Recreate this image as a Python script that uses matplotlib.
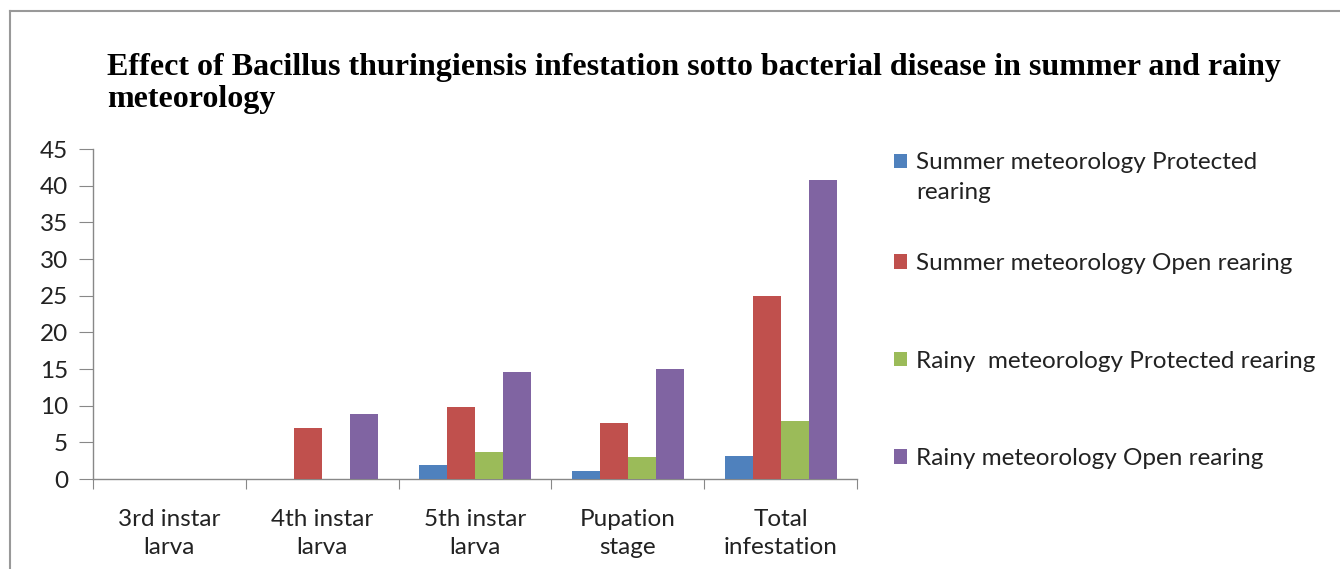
import matplotlib
matplotlib.use("Agg")
import matplotlib.pyplot as plt
import numpy as np
from matplotlib.lines import Line2D
from matplotlib.patches import Rectangle
from matplotlib.legend_handler import HandlerPatch

categories = ["3rd instar\nlarva", "4th instar\nlarva", "5th instar\nlarva", "Pupation\nstage", "Total\ninfestation"]
series_names = ["Summer meteorology Protected\nrearing",
                "Summer meteorology Open rearing",
                "Rainy  meteorology Protected rearing",
                "Rainy meteorology Open rearing"]
summer_protected = [0, 0, 1.9, 1.1, 3.1]
summer_open = [0, 7.0, 9.8, 7.6, 25.0]
rainy_protected = [0, 0, 3.7, 3.0, 7.9]
rainy_open = [0, 8.8, 14.6, 15.0, 40.8]
yticks = [0, 5, 10, 15, 20, 25, 30, 35, 40, 45]
title = "Effect of Bacillus thuringiensis infestation sotto bacterial disease in summer and rainy\nmeteorology"

colors = ["#4F81BD", "#C0504D", "#9BBB59", "#8064A2"]
font = "Lato"
fs = 17.5
txtcol = "#222222"


class ShiftedSquare(HandlerPatch):
    def __init__(self, shift=0.0, **kw):
        super().__init__(**kw)
        self.shift = shift

    def create_artists(self, legend, orig_handle, xdescent, ydescent, width, height, fontsize, trans):
        p = Rectangle((-xdescent, -ydescent + self.shift * fontsize), width, height,
                      facecolor=orig_handle.get_facecolor(), edgecolor="none")
        p.set_transform(trans)
        return [p]


fig = plt.figure(figsize=(13.4, 5.69), dpi=100)
ax = fig.add_axes([93/1340, 1-479/569, (857-93)/1340, (479-149)/569])

x = np.arange(len(categories))
w = 0.183
allv = [summer_protected, summer_open, rainy_protected, rainy_open]
bars = []
for i, (vals, c, name) in enumerate(zip(allv, colors, series_names)):
    b = ax.bar(x + (i - 1.5) * w, vals, width=w, color=c, label=name, zorder=3)
    bars.append(b)

ax.set_xlim(-0.5, len(categories) - 0.5)
ax.set_ylim(0, 45)
ax.set_yticks(yticks)
ax.set_yticklabels([str(v) for v in yticks], fontsize=fs, family=font, color=txtcol)
ax.set_xticks(np.arange(-0.5, len(categories), 1.0))
ax.set_xticklabels([])
ax.set_xticks(x, minor=True)
ax.set_xticklabels(categories, minor=True, fontsize=fs, family=font, color=txtcol, linespacing=1.4)
ax.tick_params(axis="x", which="major", length=7, color="#888888", direction="out")
ax.tick_params(axis="x", which="minor", length=0, pad=21.5)
ax.tick_params(axis="y", length=10, color="#888888", direction="out", pad=8)
for s in ["top", "right"]:
    ax.spines[s].set_visible(False)
for s in ["left", "bottom"]:
    ax.spines[s].set_color("#888888")
    ax.spines[s].set_linewidth(1.0)

legkw = dict(frameon=False, prop={"family": font, "size": fs}, handlelength=0.55, handleheight=0.55,
             handletextpad=0.35, borderpad=0, borderaxespad=0, bbox_transform=fig.transFigure)
h0 = bars[0].patches[0]
leg1 = ax.legend([h0], [series_names[0]], loc="upper left",
                 bbox_to_anchor=(894/1340, 1-152/569),
                 handler_map={h0: ShiftedSquare(shift=0.66)}, **legkw)
for t in leg1.get_texts():
    t.set_color(txtcol)
    t.set_linespacing(1.5)
ax.add_artist(leg1)
leg2 = ax.legend(bars[1:], series_names[1:], loc="upper left",
                 bbox_to_anchor=(894/1340, 1-253/569), labelspacing=3.15, **legkw)
for t in leg2.get_texts():
    t.set_color(txtcol)

fig.text(107/1340, 1-53/569, title, ha="left", va="top", fontsize=23, fontweight="bold",
         family="Liberation Serif", linespacing=1.12, color="black")

fig.add_artist(Line2D([10/1340, 1], [1-11/569, 1-11/569], transform=fig.transFigure, color="#999999", lw=1.5))
fig.add_artist(Line2D([10/1340, 10/1340], [0, 1-11/569], transform=fig.transFigure, color="#999999", lw=1.5))

fig.savefig("out.png", dpi=100, facecolor="white")
